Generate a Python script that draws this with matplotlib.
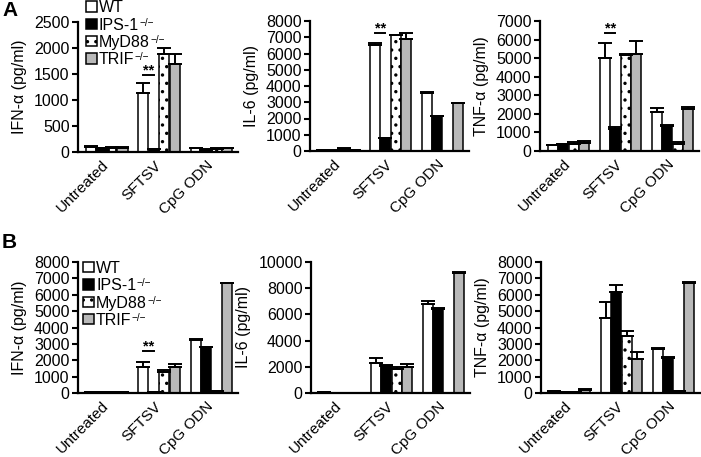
import matplotlib
matplotlib.use("Agg")
import matplotlib.pyplot as plt
from matplotlib.patches import Rectangle
import numpy as np

plt.rcParams['font.family'] = ['Liberation Sans', 'DejaVu Sans']
plt.rcParams['hatch.color'] = 'black'
plt.rcParams['hatch.linewidth'] = 1.2

# ---- data ----
categories = ["Untreated", "SFTSV", "CpG ODN"]
strain_names = ["WT", "IPS-1", "MyD88", "TRIF"]
strain_sups = ["", "−/−", "−/−", "−/−"]

# Panel A
A_ifna = {"WT": [100, 1130, 70], "IPS": [70, 50, 45], "MyD88": [85, 1890, 65], "TRIF": [80, 1686, 75]}
A_ifna_err = {"WT": [15, 200, 10], "IPS": [10, 10, 10], "MyD88": [10, 110, 10], "TRIF": [10, 200, 10]}
A_il6 = {"WT": [50, 6500, 3580], "IPS": [30, 777, 2147], "MyD88": [100, 7117, 0], "TRIF": [40, 6912, 2924]}
A_il6_err = {"WT": [20, 170, 40], "IPS": [10, 30, 30], "MyD88": [100, 30, 0], "TRIF": [10, 370, 40]}
A_tnfa = {"WT": [310, 5013, 2112], "IPS": [380, 1164, 1360], "MyD88": [400, 5156, 358], "TRIF": [430, 5245, 2238]}
A_tnfa_err = {"WT": [30, 800, 180], "IPS": [20, 140, 30], "MyD88": [90, 90, 140], "TRIF": [110, 680, 140]}

# Panel B
B_ifna = {"WT": [80, 1595, 3231], "IPS": [60, 80, 2781], "MyD88": [60, 1288, 100], "TRIF": [40, 1595, 6708]}
B_ifna_err = {"WT": [10, 300, 40], "IPS": [10, 10, 30], "MyD88": [10, 100, 10], "TRIF": [10, 200, 30]}
B_il6 = {"WT": [50, 2327, 6803], "IPS": [0, 2046, 6419], "MyD88": [0, 1867, 0], "TRIF": [0, 1995, 9156]}
B_il6_err = {"WT": [20, 380, 250], "IPS": [0, 80, 50], "MyD88": [0, 80, 0], "TRIF": [0, 200, 50]}
B_tnfa = {"WT": [100, 4560, 2658], "IPS": [60, 6196, 2147], "MyD88": [60, 3476, 100], "TRIF": [160, 2106, 6748]}
B_tnfa_err = {"WT": [20, 1020, 100], "IPS": [10, 410, 30], "MyD88": [10, 330, 10], "TRIF": [100, 370, 40]}

ylabels = ["IFN-α (pg/ml)", "IL-6 (pg/ml)", "TNF-α (pg/ml)"]
A_ymax = [2500, 8000, 7000]
A_ystep = [500, 1000, 1000]
B_ymax = [8000, 10000, 8000]
B_ystep = [1000, 2000, 1000]
# significance line heights (WT vs IPS-1 in SFTSV)
A_sig = [1480, 7240, 6340]
B_sig = [2583, None, None]

keys = ["WT", "IPS", "MyD88", "TRIF"]
faces = ["white", "black", "white", "#b9b9b9"]
hatches = [None, None, "..", None]

W, H = 701, 457
fig = plt.figure(figsize=(W / 100, H / 100), dpi=100)

def pos(l, r, t, b):
    return [l / W, 1 - b / H, (r - l) / W, (b - t) / H]

A_pos = [pos(78, 238, 22, 152), pos(310, 469, 21, 151), pos(540, 699, 21, 151)]
B_pos = [pos(78, 238, 262, 393), pos(311, 470, 262, 393), pos(541, 700, 262, 393)]

FS = 11.5
XFS = 11
centers = np.array([0, 5, 10])
offsets = [-1.5, -0.5, 0.5, 1.5]

def draw(ax, vals, errs, ymax, ystep, ylabel, sig):
    for k, key in enumerate(keys):
        x = centers + offsets[k]
        v = np.array(vals[key], float)
        e = np.array(errs[key], float)
        ax.bar(x, v, width=0.98, color=faces[k], edgecolor="black", linewidth=1.1,
               hatch=hatches[k], zorder=2)
        ax.errorbar(x, v, yerr=[np.zeros_like(e), e], fmt="none", ecolor="black",
                    elinewidth=1.4, capsize=5.0, capthick=1.4, zorder=3)
    ax.set_xlim(-2.75, 12.55)
    ax.set_ylim(0, ymax)
    ax.set_yticks(np.arange(0, ymax + 1, ystep))
    ax.set_xticks(centers)
    ax.set_xticklabels(categories, rotation=45, ha="right", va="center",
                       rotation_mode="anchor", fontsize=XFS)
    ax.tick_params(axis="x", length=0, pad=8)
    ax.tick_params(axis="y", length=4, width=1.5, direction="out", labelsize=FS, pad=2)
    for s in ["top", "right"]:
        ax.spines[s].set_visible(False)
    for s in ["left", "bottom"]:
        ax.spines[s].set_linewidth(1.6)
    ax.set_ylabel(ylabel, fontsize=FS, labelpad=5)
    if sig is not None:
        x0 = centers[1] + offsets[0]
        x1 = centers[1] + offsets[1]
        ax.plot([x0, x1], [sig, sig], color="black", lw=1.4, clip_on=False, zorder=4)
        ax.annotate("**", xy=((x0 + x1) / 2, sig), xytext=(0, 0.4),
                    textcoords="offset points", ha="center", va="baseline",
                    fontsize=10.5, fontweight="bold")

A_vals = [(A_ifna, A_ifna_err), (A_il6, A_il6_err), (A_tnfa, A_tnfa_err)]
B_vals = [(B_ifna, B_ifna_err), (B_il6, B_il6_err), (B_tnfa, B_tnfa_err)]

for i in range(3):
    ax = fig.add_axes(A_pos[i])
    draw(ax, A_vals[i][0], A_vals[i][1], A_ymax[i], A_ystep[i], ylabels[i], A_sig[i])
    ax = fig.add_axes(B_pos[i])
    draw(ax, B_vals[i][0], B_vals[i][1], B_ymax[i], B_ystep[i], ylabels[i], B_sig[i])

# legends (keys drawn at fixed positions, in pixels)
def legend_at(x_sq, y_first, dy):
    s = 10.5
    for k in range(4):
        yc = y_first + k * dy
        r = Rectangle((x_sq / W, 1 - (yc + s / 2) / H), s / W, s / H,
                      transform=fig.transFigure, facecolor=faces[k], edgecolor="black",
                      hatch=hatches[k], linewidth=1.1)
        fig.add_artist(r)
        t = fig.text((x_sq + s + 2.5) / W, 1 - yc / H, strain_names[k], fontsize=FS,
                     ha="left", va="center_baseline")
        if strain_sups[k]:
            plt.annotate(strain_sups[k], xy=(1.0, 1.0), xycoords=t,
                         xytext=(0.3, 0), textcoords="offset points",
                         ha="left", va="top", fontsize=7.2,
                         annotation_clip=False)

legend_at(86, 6.5, 17.3)
legend_at(83, 267, 17.4)

fig.text(2 / W, 1 - 1 / H, "A", fontsize=15, fontweight="bold", ha="left", va="top")
fig.text(2 / W, 1 - 233 / H, "B", fontsize=15, fontweight="bold", ha="left", va="top")

fig.savefig("out.png", dpi=100)
